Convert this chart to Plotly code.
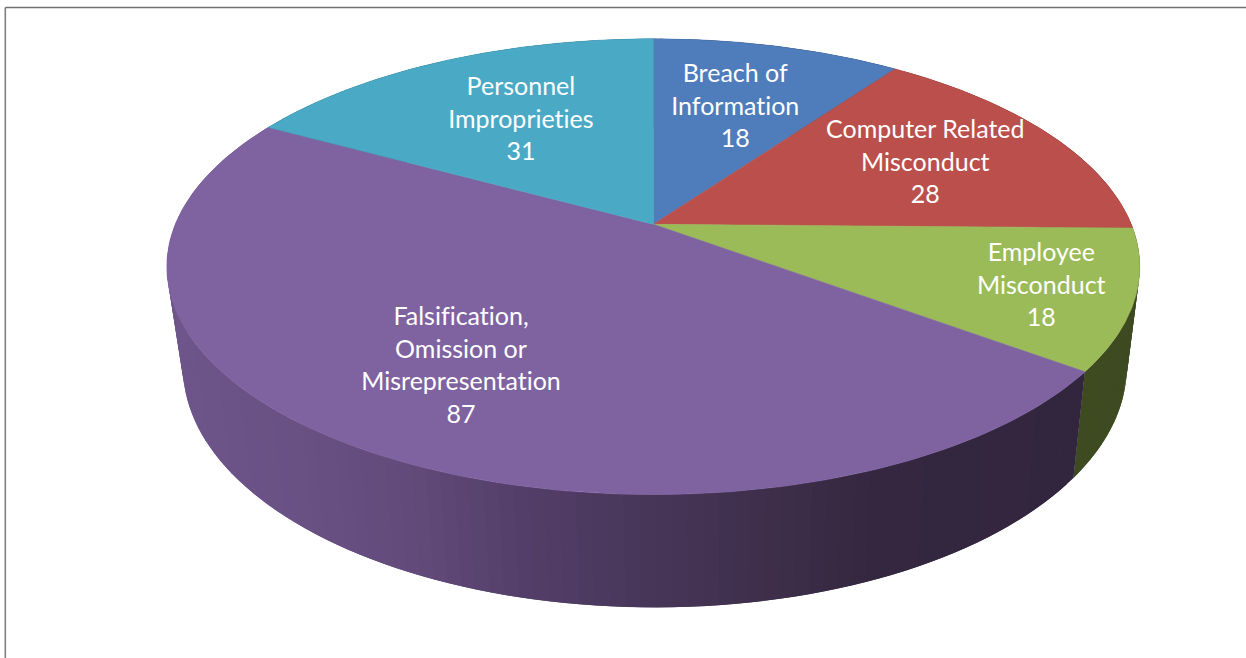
import numpy as np
import plotly.graph_objects as go

# --- data ---
categories = ["Breach of Information", "Computer Related Misconduct", "Employee Misconduct",
              "Falsification, Omission or Misrepresentation", "Personnel Improprieties"]
values = [18, 28, 18, 87, 31]
label_lines = [["Breach of", "Information"], ["Computer Related", "Misconduct"],
               ["Employee", "Misconduct"], ["Falsification,", "Omission or", "Misrepresentation"],
               ["Personnel", "Improprieties"]]

# --- styles ---
top_colors = ["#4f7cba", "#bb4f4c", "#9bbb59", "#7f63a1", "#4aaac5"]
side_colors = ["#2c4568", "#662b29", "#3e4a20", None, "#285f6e"]
# purple side wall shading: (pixel x, colour)
shade_x = [170, 300, 420, 520, 650, 780, 880, 1090]
shade_rgb = [(110, 85, 138), (106, 81, 132), (98, 74, 122), (84, 63, 106),
             (72, 54, 90), (62, 46, 74), (52, 39, 63), (50, 37, 62)]
label_x = [735, 925, 1041, 461, 521]
label_y = [104, 160, 283, 363.5, 117]

W, H = 1246, 658
CX, CY = 653.3, 224.3   # pixel position of the pie's apex
A, B, K = 478.0, 220.0, 0.186   # projection of the tilted disc
SX, SY, DROP, SHIFT = 0.970, 1.055, 98.0, 1.5   # lower rim relative to upper rim


def rim(theta_deg, lower=False):
    t = np.radians(np.asarray(theta_deg, dtype=float))
    x, y = np.sin(t), np.cos(t)
    w = 1 + K * y
    px, py = A * x / w, -B * y / w
    if lower:
        return CX + SHIFT + SX * px, CY + DROP + SY * py
    return CX + px, CY + py


def shade(x):
    return "rgb(%d,%d,%d)" % tuple(
        int(round(np.interp(x, shade_x, [c[i] for c in shade_rgb]))) for i in range(3))


def poly(xs, ys, color, lw=0.0):
    return go.Scatter(x=list(xs), y=list(ys), mode="lines", fill="toself", fillcolor=color,
                      line=dict(color=color, width=lw), hoverinfo="skip", showlegend=False)


total = sum(values)
edges = np.concatenate([[0], np.cumsum(values)]) * 360.0 / total

fig = go.Figure()

# side walls: narrow overlapping strips, each painted over the previous one
for i in range(len(values)):
    a0, a1 = edges[i], edges[i + 1]
    n = 110 if side_colors[i] is None else 40
    stops = np.linspace(a0, a1, n + 1)
    step = stops[1] - stops[0]
    for s0 in stops[:-1]:
        th = np.array([s0, min(s0 + step / 2, a1), min(s0 + 2 * step, a1)])
        ux, uy = rim(th)
        lx, ly = rim(th, True)
        col = side_colors[i] or shade((ux[0] + lx[0]) / 2)
        fig.add_trace(poly(np.r_[ux, lx[::-1]], np.r_[uy, ly[::-1]], col))

# top face
for i in range(len(values)):
    th = np.linspace(edges[i], edges[i + 1], 160)
    ux, uy = rim(th)
    fig.add_trace(poly(np.r_[CX, ux, CX], np.r_[CY, uy, CY], top_colors[i], 0.6))

# labels
for lines, v, x, y in zip(label_lines, values, label_x, label_y):
    fig.add_annotation(x=x, y=y, xref="x", yref="y", text="<br>".join(lines + [str(v)]),
                       showarrow=False, align="center", xanchor="center", yanchor="middle",
                       font=dict(family="Lato", size=25, color="white"))

# frame
fig.add_shape(type="line", x0=5.3, x1=5.3, y0=7.5, y1=H, xref="x", yref="y",
              line=dict(color="#808080", width=1.6))
fig.add_shape(type="line", x0=5.3, x1=W, y0=7.5, y1=7.5, xref="x", yref="y",
              line=dict(color="#707070", width=1.4))

fig.update_layout(width=W, height=H, margin=dict(l=0, r=0, t=0, b=0),
                  paper_bgcolor="white", plot_bgcolor="white", showlegend=False,
                  xaxis=dict(range=[0, W], visible=False, fixedrange=True),
                  yaxis=dict(range=[H, 0], visible=False, fixedrange=True))
post = ("document.body.style.margin='0';document.body.style.overflow='hidden';"
        "var s=document.createElement('style');"
        "s.textContent='text{font-variant-ligatures:none;font-feature-settings:\"liga\" 0;}';"
        "document.head.appendChild(s);")
fig.write_html("out.html", post_script=post, config={"displayModeBar": False})
